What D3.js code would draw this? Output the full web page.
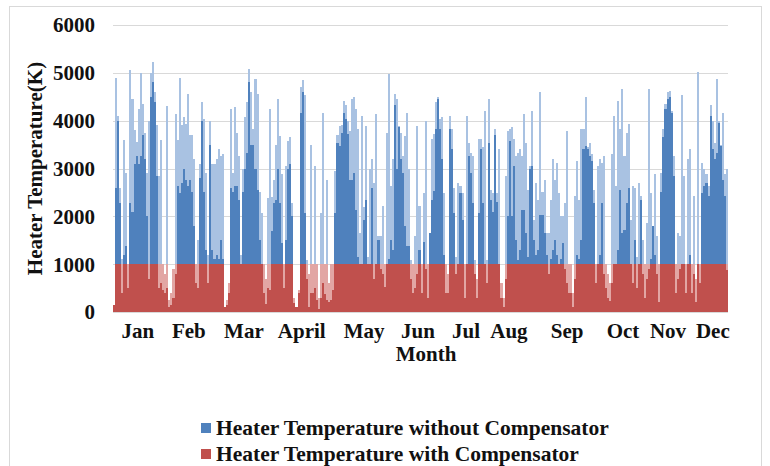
<!DOCTYPE html>
<meta charset="utf-8">
<html>
<head>
<title>heater temperature</title>
<style>
    body {
        margin: 0;
        background: #fff;
    }
    text {
        font-family: "Liberation Serif", "Times New Roman", serif;
        font-weight: bold;
        fill: #111;
    }
</style>
<script src="https://d3js.org/d3.v7.min.js"></script>
</head>
<body>
<div id="chart"></div>

<script>

// one column per ~1.2 days across the year.
// "Hi" = top of the pale part of the column, "Lo" = top of the solid part
var withoutHi = [
  150,4900,4100,2600,1100,3600,2900,900,5050,4450,
  3800,3550,4250,5000,4350,3750,2900,4000,5000,5230,
  4600,3900,2850,3600,800,600,4300,250,400,600,
  4140,3600,4900,3900,4070,3930,4560,3700,3700,3200,
  1000,1500,3100,4400,4030,2900,1200,4000,3100,3100,
  3200,3400,3260,3300,100,250,600,4250,2900,4280,
  3750,3260,1200,3000,4070,4390,5090,4600,3820,4880,
  4560,2500,2070,390,175,2390,4250,2400,2770,3500,
  4460,3680,2880,900,3050,3580,3650,2280,180,100,
  460,4700,4840,4530,1090,100,3500,390,3050,250,
  70,2070,4170,380,2770,200,250,450,2950,3700,
  3890,3900,4420,4320,4000,3790,4460,4490,4250,3820,
  1650,4100,2200,3890,1160,2980,3190,2700,4140,1580,
  1580,2210,530,3750,4980,2630,3190,4560,4460,3890,
  3750,3260,3680,4170,2980,1090,390,1580,3890,2210,
  390,2490,4000,500,1650,3610,3720,4390,4490,4030,
  4070,2490,600,400,4100,3820,2600,1160,2700,2630,
  2490,500,4100,3540,3330,3260,1090,300,3610,3610,
  3440,4210,1090,4460,2560,2490,3820,2490,3400,300,
  100,2840,3790,3820,3860,3610,3260,3330,3400,3260,
  4140,3540,2560,3050,4210,1930,2700,2350,4600,2500,
  2770,1650,1650,2350,3190,2770,3120,2490,2000,2000,
  2280,3790,390,600,150,2420,3160,2350,3820,3820,
  4490,3440,3540,3300,2560,800,3050,3190,3120,3260,
  700,500,230,3300,4100,2630,4420,3820,4670,3260,
  3750,3930,1930,2630,2600,1160,2700,2420,1510,400,
  1870,4670,2490,1790,2880,1580,300,2910,3820,4350,
  4600,4630,4210,3260,600,1650,1580,4530,2840,500,
  3190,3400,390,2420,300,5020,940,3120,2980,2880,
  2630,4320,4000,3540,4880,4000,3500,4170,2880,2980
];
var withoutLo = [
  150,2600,4000,2280,400,1200,1370,500,2280,2100,
  3100,3270,3100,3260,3700,3200,2000,700,4500,4800,
  4400,2850,500,600,450,400,500,100,150,300,
  800,2630,2490,2700,3000,2770,2630,2770,2500,1800,
  600,500,2800,4000,2500,1300,600,3500,1300,1100,
  1200,1100,1500,1100,100,150,400,2600,2500,2630,
  2630,2350,1000,2500,3000,3330,4800,3500,3500,3000,
  2560,1500,1000,390,175,500,460,1700,2280,2350,
  3000,2280,1440,500,1500,3000,3090,2000,180,100,
  400,4170,4600,2070,700,100,400,390,500,250,
  70,300,600,380,250,200,250,450,2070,3540,
  3470,3750,4170,4030,3720,2770,2770,2910,2140,1160,
  1000,1000,1930,2350,1000,1000,2600,700,1000,1500,
  900,800,530,1000,1100,1500,1300,4320,2980,3860,
  3190,2910,1790,1370,1370,700,390,500,800,1300,
  390,1470,900,300,1650,2350,2530,3820,4460,3820,
  3190,1200,400,400,3820,3400,2070,800,1000,2490,
  1930,300,1000,3260,2910,2280,800,300,2070,3400,
  2280,1000,600,3540,2350,2100,3700,2300,1000,300,
  100,700,2000,3580,2000,3050,1500,1090,1300,2140,
  2140,1650,1160,2980,3050,1500,1200,1300,2030,2030,
  1650,1200,800,1100,1300,1510,1200,1000,1100,1440,
  900,600,390,400,100,700,1200,1100,1500,3400,
  3470,3400,3260,3160,2280,600,1000,1200,2280,800,
  500,300,230,600,1000,1000,1300,2560,1650,1710,
  2280,2600,1000,600,1510,500,1000,2350,800,300,
  700,900,1100,1790,1200,800,200,2500,3650,4250,
  4460,4500,4170,2840,400,700,900,1000,1000,400,
  1000,1200,390,800,200,1000,600,2490,2630,2700,
  2420,4100,3400,3190,3330,3960,3470,2770,2420,880
];
var withHi = [
  150,1000,1000,1000,1000,1000,1000,1000,1000,1000,
  1000,1000,1000,1000,1000,1000,1000,1000,1000,1000,
  1000,1000,1000,1000,1000,800,1000,250,400,900,
  1000,1000,1000,1000,1000,1000,1000,1000,1000,1000,
  1000,1000,1000,1000,1000,1000,1000,1000,1000,1000,
  1000,1000,1000,1000,100,250,600,1000,1000,1000,
  1000,1000,1000,1000,1000,1000,1000,1000,1000,1000,
  1000,1000,1000,1000,700,1000,1000,1000,1000,1000,
  1000,1000,1000,1000,1000,1000,1000,1000,300,100,
  460,1000,1000,1000,1000,800,1000,1000,1000,1000,
  300,1000,1000,1000,1000,600,1000,1000,1000,1000,
  1000,1000,1000,1000,1000,1000,1000,1000,1000,1000,
  1000,1000,1000,1000,1000,1000,1000,1000,1000,1000,
  1000,1000,1000,1000,1000,1000,1000,1000,1000,1000,
  1000,1000,1000,1000,1000,1000,1000,1000,1000,1000,
  1000,1000,1000,1000,1000,1000,1000,1000,1000,1000,
  1000,1000,1000,800,1000,1000,1000,1000,1000,1000,
  1000,1000,1000,1000,1000,1000,1000,700,1000,1000,
  1000,1000,1000,1000,1000,1000,1000,1000,1000,600,
  300,1000,1000,1000,1000,1000,1000,1000,1000,1000,
  1000,1000,1000,1000,1000,1000,1000,1000,1000,1000,
  1000,1000,1000,1000,1000,1000,1000,1000,1000,1000,
  1000,1000,1000,1000,400,1000,1000,1000,1000,1000,
  1000,1000,1000,1000,1000,1000,1000,1000,1000,1000,
  1000,800,600,1000,1000,1000,1000,1000,1000,1000,
  1000,1000,1000,1000,1000,1000,1000,1000,1000,1000,
  1000,1000,1000,1000,1000,1000,1000,1000,1000,1000,
  1000,1000,1000,1000,1000,1000,1000,1000,1000,1000,
  1000,1000,1000,1000,700,1000,1000,1000,1000,1000,
  1000,1000,1000,1000,1000,1000,1000,1000,1000,1000
];
var withLo = [
  150,1000,1000,1000,400,1000,1000,500,1000,1000,
  1000,1000,1000,1000,1000,1000,1000,700,1000,1000,
  1000,1000,500,600,450,400,500,100,150,300,
  800,1000,1000,1000,1000,1000,1000,1000,1000,1000,
  600,500,1000,1000,1000,1000,600,1000,1000,1000,
  1000,1000,1000,1000,100,150,400,1000,1000,1000,
  1000,1000,1000,1000,1000,1000,1000,1000,1000,1000,
  1000,1000,1000,390,175,500,460,1000,1000,1000,
  1000,1000,1000,500,1000,1000,1000,1000,180,100,
  400,1000,1000,1000,700,100,400,390,500,250,
  70,300,600,380,250,200,250,450,1000,1000,
  1000,1000,1000,1000,1000,1000,1000,1000,1000,1000,
  1000,1000,1000,1000,1000,1000,1000,700,1000,1000,
  900,800,530,1000,1000,1000,1000,1000,1000,1000,
  1000,1000,1000,1000,1000,700,390,500,800,1000,
  390,1000,900,300,1000,1000,1000,1000,1000,1000,
  1000,1000,400,400,1000,1000,1000,800,1000,1000,
  1000,300,1000,1000,1000,1000,800,300,1000,1000,
  1000,1000,600,1000,1000,1000,1000,1000,1000,300,
  100,700,1000,1000,1000,1000,1000,1000,1000,1000,
  1000,1000,1000,1000,1000,1000,1000,1000,1000,1000,
  1000,1000,800,1000,1000,1000,1000,1000,1000,1000,
  900,600,390,400,100,700,1000,1000,1000,1000,
  1000,1000,1000,1000,1000,600,1000,1000,1000,800,
  500,300,230,600,1000,1000,1000,1000,1000,1000,
  1000,1000,1000,600,1000,500,1000,1000,800,300,
  700,900,1000,1000,1000,800,200,1000,1000,1000,
  1000,1000,1000,1000,400,700,900,1000,1000,400,
  1000,1000,390,800,200,1000,600,1000,1000,1000,
  1000,1000,1000,1000,1000,1000,1000,1000,1000,880
];

// month labels and the day of the year they sit on
var months = ["Jan", "Feb", "Mar", "April", "May", "Jun", "Jul", "Aug", "Sep", "Oct", "Nov", "Dec"];
var monthDay = [14.8, 45, 77.7, 112, 149, 181, 209.5, 235, 269.5, 302.7, 329.4, 356];
var yTicks = [0, 1000, 2000, 3000, 4000, 5000, 6000];

var series = [
  {name: "Heater Temperature without Compensator", hi: withoutHi, lo: withoutLo, pale: "#a9c2e2", solid: "#4f81bd"},
  {name: "Heater Temperature with Compensator", hi: withHi, lo: withLo, pale: "#e2a6a4", solid: "#c0504d"}
];

// set the dimensions of the graph
var width = 770, height = 466;
var plot = {left: 113, right: 728, top: 25, bottom: 312};

var x = d3.scaleLinear().domain([0, 365]).range([plot.left, plot.right]);
var y = d3.scaleLinear().domain([0, 6000]).range([plot.bottom, plot.top]);

var svg = d3.select("#chart")
  .append("svg")
    .attr("width", width)
    .attr("height", height);

// frame round the whole chart
svg.append("rect")
    .attr("x", 9.5).attr("y", 6.5)
    .attr("width", 752).attr("height", 480)
    .attr("fill", "none")
    .attr("stroke", "#d9d9d9");

// gridlines
svg.append("g")
  .selectAll("line")
  .data(yTicks)
  .enter().append("line")
    .attr("x1", plot.left).attr("x2", plot.right)
    .attr("y1", function(d) { return Math.round(y(d)) + 0.5; })
    .attr("y2", function(d) { return Math.round(y(d)) + 0.5; })
    .attr("stroke", "#d9d9d9");

// y tick labels
svg.append("g")
  .selectAll("text")
  .data(yTicks)
  .enter().append("text")
    .attr("x", 95)
    .attr("y", function(d) { return y(d); })
    .attr("dy", "0.35em")
    .attr("text-anchor", "end")
    .style("font-size", "21px")
    .text(function(d) { return d; });

//##### bars #####
var n = withoutHi.length;
var dayOf = function(i) { return i * 365 / n; };
var barW = x(dayOf(1)) - x(0);

series.forEach(function(s) {
  var g = svg.append("g")
      .attr("shape-rendering", "crispEdges");
  [["hi", s.pale], ["lo", s.solid]].forEach(function(layer) {
    g.append("g")
      .selectAll("rect")
      .data(s[layer[0]])
      .enter().append("rect")
        .attr("x", function(d, i) { return x(dayOf(i)); })
        .attr("width", barW)
        .attr("y", function(d) { return y(d); })
        .attr("height", function(d) { return y(0) - y(d); })
        .attr("fill", layer[1]);
  });
});

// month labels
svg.append("g")
  .selectAll("text")
  .data(months)
  .enter().append("text")
    .attr("x", function(d, i) { return x(monthDay[i]); })
    .attr("y", 338)
    .attr("text-anchor", "middle")
    .style("font-size", "21px")
    .text(function(d) { return d; });

// axis titles
svg.append("text")
    .attr("x", 426).attr("y", 361)
    .attr("text-anchor", "middle")
    .style("font-size", "21px")
    .text("Month");

svg.append("text")
    .attr("transform", "translate(42," + ((plot.top + plot.bottom) / 2) + ") rotate(-90)")
    .attr("text-anchor", "middle")
    .style("font-size", "21px")
    .text("Heater Temperature(K)");

// legend
var legend = svg.append("g")
  .selectAll("g")
  .data(series)
  .enter().append("g")
    .attr("transform", function(d, i) { return "translate(201," + (423 + i * 26) + ")"; });

legend.append("rect")
    .attr("width", 10).attr("height", 10)
    .attr("fill", function(d) { return d.solid; });

legend.append("text")
    .attr("x", 15).attr("y", 12)
    .style("font-size", "21.5px")
    .text(function(d) { return d.name; });

</script>
</body>
</html>
